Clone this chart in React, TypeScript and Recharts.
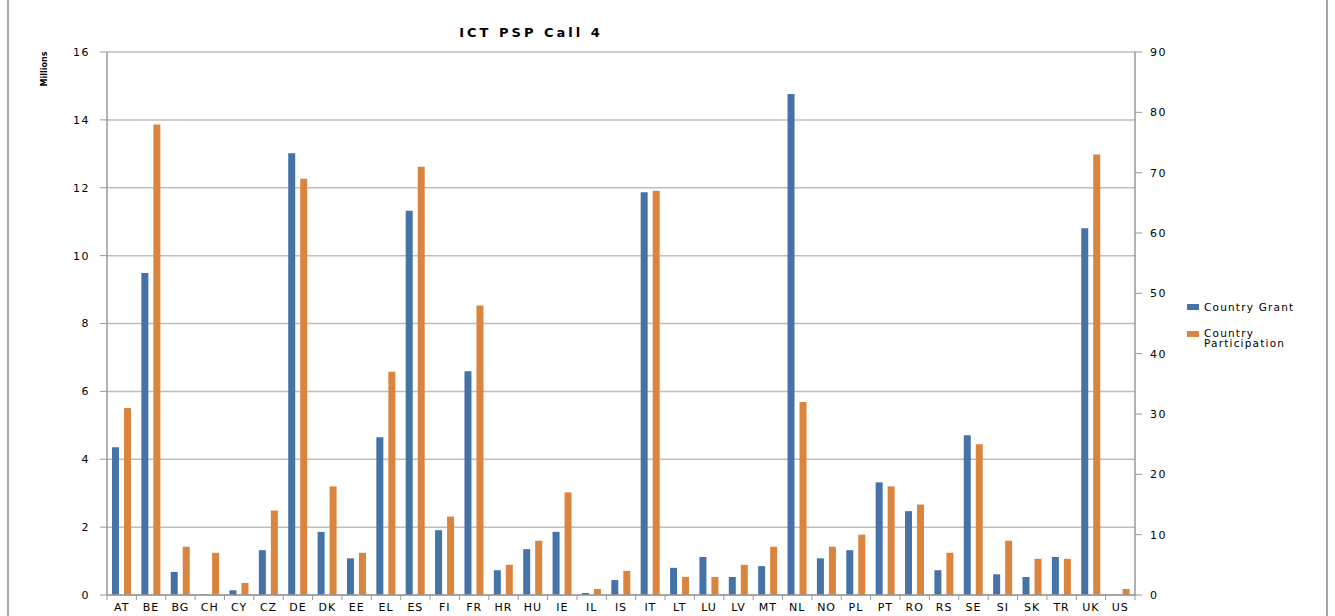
import { BarChart, Bar, XAxis, YAxis, CartesianGrid } from "recharts";

const categories = [
  "AT", "BE", "BG", "CH", "CY", "CZ", "DE", "DK", "EE", "EL",
  "ES", "FI", "FR", "HR", "HU", "IE", "IL", "IS", "IT", "LT",
  "LU", "LV", "MT", "NL", "NO", "PL", "PT", "RO", "RS", "SE",
  "SI", "SK", "TR", "UK", "US",
];

// millions of euro (left axis)
const grant = [
  4.35, 9.49, 0.68, 0.02, 0.14, 1.32, 13.02, 1.86, 1.08, 4.65,
  11.32, 1.91, 6.59, 0.73, 1.35, 1.86, 0.06, 0.44, 11.87, 0.8,
  1.12, 0.53, 0.85, 14.76, 1.08, 1.32, 3.32, 2.47, 0.73, 4.71,
  0.61, 0.53, 1.12, 10.81, 0,
];

// number of participations (right axis)
const participation = [
  31, 78, 8, 7, 2, 14, 69, 18, 7, 37,
  71, 13, 48, 5, 9, 17, 1, 4, 67, 3,
  3, 5, 8, 32, 8, 10, 18, 15, 7, 25,
  9, 6, 6, 73, 1,
];

const leftTicks = [0, 2, 4, 6, 8, 10, 12, 14, 16];
const rightTicks = [0, 10, 20, 30, 40, 50, 60, 70, 80, 90];

const BLUE = "#4572a7";
const ORANGE = "#db843d";
const FONT = "'DejaVu Sans', Verdana, sans-serif";

const data = categories.map((c, i) => ({
  name: c,
  grant: grant[i],
  participation: participation[i],
}));

const BAND = 1028 / categories.length;

function CategoryTick(props: any) {
  const { x, y, payload, index } = props;
  const left = x - BAND / 2;
  return (
    <g>
      <line x1={left} y1={595} x2={left} y2={600} stroke="#999" />
      {index === categories.length - 1 && (
        <line x1={x + BAND / 2} y1={595} x2={x + BAND / 2} y2={600} stroke="#999" />
      )}
      <text
        x={x}
        y={611}
        textAnchor="middle"
        fontSize={11}
        fontFamily={FONT}
        letterSpacing={1}
        fill="#000"
      >
        {payload.value}
      </text>
    </g>
  );
}

export default function App() {
  const tickStyle = { fontSize: 11, fontFamily: FONT, fill: "#000", letterSpacing: 1.5 };
  return (
    <div style={{ position: "fixed", left: 0, top: 0, width: 1335, height: 616, background: "#fff" }}>
      <div
        style={{
          position: "absolute",
          left: 7,
          top: -5,
          width: 1317,
          height: 630,
          borderLeft: "2px solid #a6a6a6",
          borderRight: "2px solid #a6a6a6",
        }}
      />
      <BarChart
        width={1335}
        height={616}
        data={data}
        margin={{ top: 52, right: 140, bottom: 0, left: 47 }}
        barCategoryGap="17%"
        barGap={5}
      >
        <CartesianGrid yAxisId="left" vertical={false} stroke="#bdbdbd" strokeWidth={1.5} />
        <XAxis
          dataKey="name"
          height={21}
          interval={0}
          tickLine={false}
          axisLine={{ stroke: "#999", strokeWidth: 1.5 }}
          tick={<CategoryTick />}
        />
        <YAxis
          yAxisId="left"
          width={60}
          domain={[0, 16]}
          ticks={leftTicks}
          tickSize={7}
          tickMargin={10}
          axisLine={{ stroke: "#999", strokeWidth: 1.5 }}
          tickLine={{ stroke: "#999" }}
          tick={tickStyle}
        />
        <YAxis
          yAxisId="right"
          orientation="right"
          width={60}
          domain={[0, 90]}
          ticks={rightTicks}
          tickSize={7}
          tickMargin={8}
          axisLine={{ stroke: "#999", strokeWidth: 1.5 }}
          tickLine={{ stroke: "#999" }}
          tick={tickStyle}
        />
        <Bar yAxisId="left" dataKey="grant" fill={BLUE} isAnimationActive={false} />
        <Bar yAxisId="right" dataKey="participation" fill={ORANGE} isAnimationActive={false} />
        <text
          x={531}
          y={37}
          textAnchor="middle"
          fontSize={13}
          fontWeight="bold"
          fontFamily={FONT}
          letterSpacing={3}
          fill="#000"
        >
          ICT PSP Call 4
        </text>
        <text
          x={47}
          y={69}
          textAnchor="middle"
          transform="rotate(-90 47 69)"
          fontSize={8}
          fontWeight="bold"
          fontFamily={FONT}
          fill="#000"
        >
          Millions
        </text>
      </BarChart>
      <div style={{ position: "absolute", left: 1187, top: 301, fontFamily: FONT, fontSize: 10.5, letterSpacing: 1.2, color: "#000" }}>
        <div style={{ display: "flex", alignItems: "flex-start" }}>
          <span style={{ width: 12, height: 6, background: BLUE, marginTop: 3, marginRight: 5 }} />
          <span style={{ lineHeight: "12px" }}>Country Grant</span>
        </div>
        <div style={{ display: "flex", alignItems: "flex-start", marginTop: 15 }}>
          <span style={{ width: 12, height: 6, background: ORANGE, marginTop: 3, marginRight: 5 }} />
          <span style={{ lineHeight: "10px" }}>
            Country
            <br />
            Participation
          </span>
        </div>
      </div>
    </div>
  );
}
